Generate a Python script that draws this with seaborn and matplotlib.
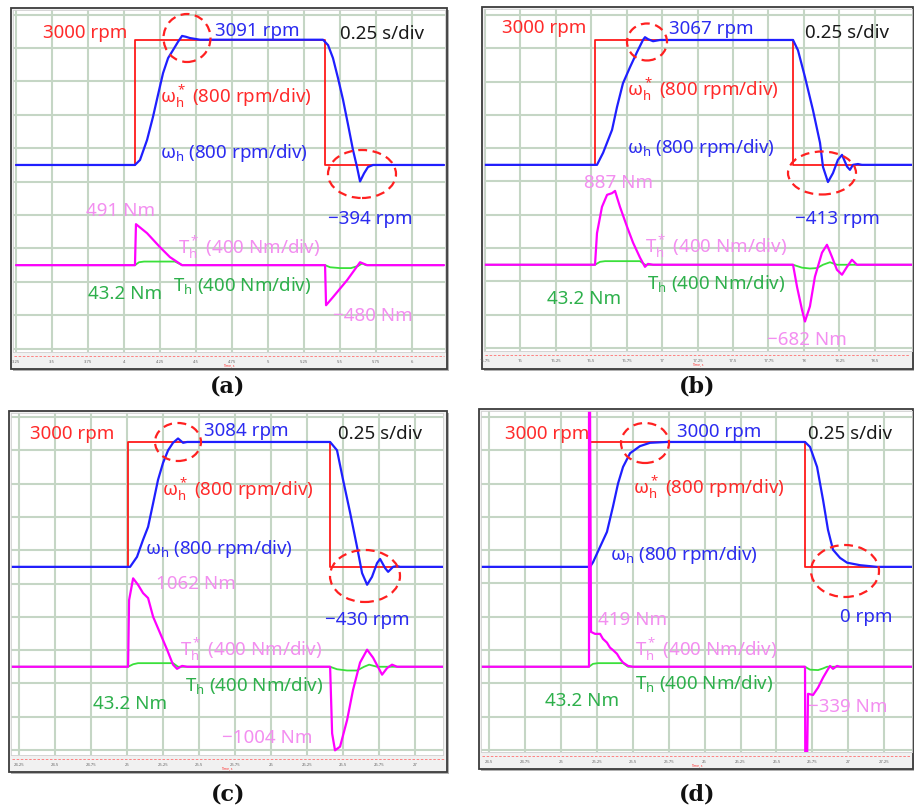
import numpy as np
import pandas as pd
import matplotlib
matplotlib.use("Agg")
import matplotlib.pyplot as plt
import seaborn as sns
from matplotlib.patches import Ellipse, Rectangle
from matplotlib.lines import Line2D

sns.set_theme(style="white")
plt.rcParams['font.family'] = ['Noto Sans', 'DejaVu Sans']
plt.rcParams['mathtext.fontset'] = 'custom'
plt.rcParams['mathtext.rm'] = 'Noto Sans'
plt.rcParams['mathtext.it'] = 'Noto Sans:italic'
plt.rcParams['mathtext.bf'] = 'Noto Sans:bold'

RPM_PER_DIV = 800
NM_PER_DIV = 400
TQ_OFFSET_DIV = -3

# ---------------- panel (a) ----------------
a_ref_t = [3.25, 4.076, 4.076, 5.396, 5.396, 6.222]
a_ref_v = [0, 0, 3000, 3000, 0, 0]
a_spd_t = [3.25, 4.076, 4.111, 4.160, 4.201, 4.236, 4.271, 4.306, 4.340, 4.375, 4.403, 4.430, 4.458,
           4.528, 5.382, 5.417, 5.451, 5.486, 5.521, 5.556, 5.590, 5.618, 5.639, 5.667, 5.694, 5.729, 6.222]
a_spd_v = [0, 0, 120, 600, 1150, 1680, 2200, 2560, 2750, 2950, 3091, 3070, 3040,
           3000, 3000, 2870, 2560, 2080, 1560, 960, 360, -50, -394, -200, -50, 0, 0]
a_tqr_t = [3.25, 4.076, 4.083, 4.160, 4.250, 4.319, 4.403, 5.396, 5.403, 5.451, 5.549, 5.639, 5.688, 6.222]
a_tqr_v = [0, 0, 491, 383, 215, 96, 0, 0, -480, -383, -180, 35, 0, 0]
a_tq_t = [3.25, 4.076, 4.104, 4.139, 4.354, 4.403, 5.396, 5.431, 5.500, 5.576, 5.625, 5.653, 5.681, 6.222]
a_tq_v = [0, 0, 35, 43.2, 43.2, 0, 0, -25, -35, -35, -10, 20, 0, 0]
a_ticks = [3.25, 3.5, 3.75, 4.0, 4.25, 4.5, 4.75, 5.0, 5.25, 5.5, 5.75, 6.0]

# ---------------- panel (b) ----------------
b_ref_t = [15.746, 16.528, 16.528, 17.923, 17.923, 18.761]
b_ref_v = [0, 0, 3000, 3000, 0, 0]
b_spd_t = [15.746, 16.542, 16.585, 16.648, 16.683, 16.725, 16.775, 16.824, 16.866, 16.880, 16.901, 16.937,
           16.986, 17.923, 17.958, 18.007, 18.063, 18.113, 18.134, 18.169, 18.204, 18.239, 18.268, 18.303,
           18.324, 18.345, 18.380, 18.408, 18.761]
b_spd_v = [0, 0, 290, 840, 1390, 1960, 2350, 2710, 3000, 3067, 3020, 2970,
           3000, 3000, 2750, 2110, 1320, 530, -50, -413, -200, 120, 240, -40,
           -120, 0, 20, 0, 0]
b_tqr_t = [15.746, 16.528, 16.542, 16.577, 16.613, 16.648, 16.669, 16.704, 16.754, 16.796, 16.845, 16.880,
           16.901, 16.937, 17.923, 17.951, 17.986, 18.007, 18.042, 18.077, 18.127, 18.162, 18.197, 18.232,
           18.268, 18.303, 18.338, 18.373, 18.761]
b_tqr_v = [0, 0, 380, 695, 840, 860, 887, 695, 455, 265, 85, -25,
           10, 0, 0, -265, -540, -682, -500, -145, 145, 240, 95, -60,
           -120, -25, 60, 0, 0]
b_tq_t = [15.746, 16.528, 16.563, 16.599, 16.845, 16.880, 17.923, 17.986, 18.042, 18.092, 18.134, 18.183, 18.232, 18.761]
b_tq_v = [0, 0, 35, 43.2, 43.2, 0, 0, -35, -45, -40, 0, 30, 0, 0]
b_ticks = [15.75, 16.0, 16.25, 16.5, 16.75, 17.0, 17.25, 17.5, 17.75, 18.0, 18.25, 18.5]

# ---------------- panel (c) ----------------
c_ref_t = [24.194, 25.007, 25.007, 26.410, 26.410, 27.194]
c_ref_v = [0, 0, 3000, 3000, 0, 0]
c_spd_t = [24.194, 25.021, 25.069, 25.111, 25.146, 25.181, 25.215, 25.25, 25.285, 25.319, 25.354, 25.389,
           25.417, 26.410, 26.458, 26.5, 26.549, 26.597, 26.632, 26.667, 26.701, 26.736, 26.757, 26.792,
           26.813, 26.847, 26.875, 26.896, 27.194]
c_spd_v = [0, 0, 240, 650, 960, 1530, 2090, 2500, 2800, 2980, 3084, 2980,
           3000, 3000, 2800, 2090, 1300, 480, -150, -430, -240, 90, 190, -30,
           -120, 0, 20, 0, 0]
c_tqr_t = [24.194, 25.007, 25.014, 25.042, 25.076, 25.111, 25.146, 25.181, 25.229, 25.278, 25.319, 25.347,
           25.382, 25.417, 26.410, 26.417, 26.424, 26.444, 26.479, 26.528, 26.569, 26.618, 26.667, 26.708,
           26.771, 26.806, 26.840, 26.875, 27.194]
c_tqr_v = [0, 0, 800, 1062, 985, 885, 825, 600, 405, 205, 25, -25,
           10, 0, 0, -400, -800, -1004, -960, -640, -280, 50, 205, 110,
           -95, -15, 25, 0, 0]
c_tq_t = [24.194, 25.007, 25.042, 25.076, 25.319, 25.354, 26.410, 26.458, 26.528, 26.597, 26.646, 26.681, 26.736, 27.194]
c_tq_v = [0, 0, 30, 43.2, 43.2, 0, 0, -30, -45, -45, 0, 25, 0, 0]
c_ticks = [24.25, 24.5, 24.75, 25.0, 25.25, 25.5, 25.75, 26.0, 26.25, 26.5, 26.75, 27.0]

# ---------------- panel (d) ----------------
d_ref_t = [24.443, 25.195, 25.195, 26.699, 26.699, 27.444]
d_ref_v = [0, 0, 3000, 3000, 0, 0]
d_spd_t = [24.443, 25.202, 25.223, 25.272, 25.320, 25.362, 25.397, 25.432, 25.481, 25.550, 25.620, 25.738,
           26.699, 26.734, 26.783, 26.825, 26.859, 26.894, 26.943, 26.992, 27.082, 27.2, 27.444]
d_spd_v = [0, 0, 110, 480, 840, 1450, 2000, 2400, 2730, 2900, 2980, 3000,
           3000, 2880, 2400, 1600, 890, 410, 215, 100, 40, 0, 0]
d_tqr_t = [24.443, 25.195, 25.195, 25.202, 25.209, 25.237, 25.272, 25.292, 25.320, 25.341, 25.362, 25.390,
           25.411, 25.432, 25.467, 25.501, 26.699, 26.701, 26.713, 26.720, 26.755, 26.790, 26.825, 26.852,
           26.873, 26.894, 26.922, 26.943, 27.444]
d_tqr_v = [0, 0, 3200, 3200, 419, 395, 395, 335, 290, 230, 200, 155,
           95, 50, 10, 0, 0, -1200, -1200, -325, -339, -250, -130, -50,
           10, -25, 10, 0, 0]
d_tq_t = [24.443, 25.195, 25.223, 25.258, 25.432, 25.467, 26.699, 26.734, 26.790, 26.825, 26.852, 27.444]
d_tq_v = [0, 0, 35, 43.2, 43.2, 0, 0, -35, -40, -20, 0, 0]
d_ticks = [24.5, 24.75, 25.0, 25.25, 25.5, 25.75, 26.0, 26.25, 26.5, 26.75, 27.0, 27.25]

W_REF = r"$\mathregular{\omega_h^*}$ (800 rpm/div)"
W_ACT = r"$\mathregular{\omega_h}$ (800 rpm/div)"
T_REF = r"$\mathregular{T_h^*}$ (400 Nm/div)"
T_ACT = r"$\mathregular{T_h}$ (400 Nm/div)"

C_RED, C_BLUE, C_BLACK = '#ff2a2a', '#2b2bf0', '#1a1a1a'
C_PINK, C_GREEN = '#f38ef0', '#2db04b'

panels = [
    dict(cap='(a)', cap_xy=(228, 387), border=(11, 8, 447, 369), box=(13, 10, 445, 352),
         xlim=(3.229, 6.229), ylim=(-5.6, 4.64), ticks=a_ticks,
         ref=(a_ref_t, a_ref_v), spd=(a_spd_t, a_spd_v), tqr=(a_tqr_t, a_tqr_v), tq=(a_tq_t, a_tq_v),
         texts=[("3000 rpm", 43, 32, C_RED), ("3091 rpm", 215, 30, C_BLUE), ("0.25 s/div", 340, 33, C_BLACK),
                (W_REF, 160, 97, C_RED), (W_ACT, 160, 152, C_BLUE), ("\u2212394 rpm", 328, 218, C_BLUE),
                ("491 Nm", 86, 210, C_PINK), (T_REF, 178, 248, C_PINK), ("43.2 Nm", 88, 293, C_GREEN),
                (T_ACT, 173, 285, C_GREEN), ("\u2212480 Nm", 333, 315, C_PINK)],
         ells=[(187, 38, 47, 48), (362, 174, 68, 48)]),
    dict(cap='(b)', cap_xy=(697, 387), border=(482, 7, 913, 369), box=(484, 9, 912, 351),
         xlim=(15.746, 18.761), ylim=(-5.59, 4.68), ticks=b_ticks,
         ref=(b_ref_t, b_ref_v), spd=(b_spd_t, b_spd_v), tqr=(b_tqr_t, b_tqr_v), tq=(b_tq_t, b_tq_v),
         texts=[("3000 rpm", 502, 27, C_RED), ("3067 rpm", 669, 28, C_BLUE), ("0.25 s/div", 805, 32, C_BLACK),
                (W_REF, 627, 90, C_RED), (W_ACT, 627, 147, C_BLUE), ("887 Nm", 584, 182, C_PINK),
                ("\u2212413 rpm", 795, 218, C_BLUE), (T_REF, 645, 247, C_PINK), (T_ACT, 647, 283, C_GREEN),
                ("43.2 Nm", 547, 298, C_GREEN), ("\u2212682 Nm", 767, 339, C_PINK)],
         ells=[(647, 42, 40, 37), (822, 173, 68, 43)]),
    dict(cap='(c)', cap_xy=(228, 795), border=(9, 411, 447, 772), box=(11, 413, 443, 755),
         xlim=(24.194, 27.194), ylim=(-5.65, 4.62), ticks=c_ticks,
         ref=(c_ref_t, c_ref_v), spd=(c_spd_t, c_spd_v), tqr=(c_tqr_t, c_tqr_v), tq=(c_tq_t, c_tq_v),
         texts=[("3000 rpm", 30, 433, C_RED), ("3084 rpm", 204, 430, C_BLUE), ("0.25 s/div", 338, 433, C_BLACK),
                (W_REF, 162, 490, C_RED), (W_ACT, 145, 548, C_BLUE), ("1062 Nm", 156, 583, C_PINK),
                ("\u2212430 rpm", 325, 619, C_BLUE), (T_REF, 180, 650, C_PINK), (T_ACT, 185, 685, C_GREEN),
                ("43.2 Nm", 93, 703, C_GREEN), ("\u22121004 Nm", 222, 737, C_PINK)],
         ells=[(178, 442, 46, 38), (365, 576, 70, 52)]),
    dict(cap='(d)', cap_xy=(697, 795), border=(479, 409, 913, 769), box=(481, 411, 912, 752),
         xlim=(24.443, 27.444), ylim=(-5.56, 4.68), ticks=d_ticks,
         ref=(d_ref_t, d_ref_v), spd=(d_spd_t, d_spd_v), tqr=(d_tqr_t, d_tqr_v), tq=(d_tq_t, d_tq_v),
         texts=[("3000 rpm", 505, 433, C_RED), ("3000 rpm", 677, 431, C_BLUE), ("0.25 s/div", 808, 433, C_BLACK),
                (W_REF, 633, 488, C_RED), (W_ACT, 610, 554, C_BLUE), ("0 rpm", 840, 616, C_BLUE),
                ("419 Nm", 598, 619, C_PINK), (T_REF, 635, 650, C_PINK), (T_ACT, 635, 683, C_GREEN),
                ("43.2 Nm", 545, 700, C_GREEN), ("\u2212339 Nm", 808, 706, C_PINK)],
         ells=[(645, 443, 48, 40), (845, 571, 68, 52)]),
]

W, H = 914, 811
fig = plt.figure(figsize=(W / 100, H / 100), dpi=100)
fig.patch.set_facecolor('white')


def fx(x):
    return x / W


def fy(y):
    return 1 - y / H


for p in panels:
    bl, bt, br, bb = p['border']
    # shadow + frame
    fig.add_artist(Rectangle((fx(bl + 2), fy(bb + 2)), (br - bl) / W, (bb - bt) / H,
                             transform=fig.transFigure, facecolor='#b0b0b0', edgecolor='none', zorder=-3))
    fig.add_artist(Rectangle((fx(bl), fy(bb)), (br - bl) / W, (bb - bt) / H,
                             transform=fig.transFigure, facecolor='#f1f1f1', edgecolor='#3c3c3c',
                             lw=1.3, zorder=-2))
    l, t, r, b = p['box']
    ax = fig.add_axes([fx(l), fy(b), (r - l) / W, (b - t) / H])
    ax.set_facecolor('white')

    rt, rv = p['ref']
    st, sv = p['spd']
    qt, qv = p['tqr']
    gt, gv = p['tq']
    df_ref = pd.DataFrame({'t': rt, 'y': np.array(rv) / RPM_PER_DIV})
    df_spd = pd.DataFrame({'t': st, 'y': np.array(sv) / RPM_PER_DIV})
    df_tq = pd.DataFrame({'t': gt, 'y': np.array(gv) / NM_PER_DIV + TQ_OFFSET_DIV})
    df_tqr = pd.DataFrame({'t': qt, 'y': np.array(qv) / NM_PER_DIV + TQ_OFFSET_DIV})

    sns.lineplot(data=df_ref, x='t', y='y', ax=ax, color='#ff1a1a', lw=1.3, estimator=None, sort=False)
    sns.lineplot(data=df_spd, x='t', y='y', ax=ax, color='#1f1fff', lw=1.6, estimator=None, sort=False)
    sns.lineplot(data=df_tq, x='t', y='y', ax=ax, color='#3ae03a', lw=1.3, estimator=None, sort=False)
    sns.lineplot(data=df_tqr, x='t', y='y', ax=ax, color='#ff00ff', lw=1.6, estimator=None, sort=False)

    ax.set_xlim(*p['xlim'])
    ax.set_ylim(*p['ylim'])
    ax.set_xticks(p['ticks'])
    ax.set_xticklabels([f"{v:g}" for v in p['ticks']], fontsize=3, color='#666666')
    ax.set_yticks(np.arange(-5.5, 4.6, 1.0))
    ax.set_yticklabels([])
    ax.tick_params(axis='both', length=0, pad=6)
    ax.grid(True, color='#c5d6c5', lw=1.5)
    ax.set_axisbelow(True)
    ax.set_xlabel('')
    ax.set_ylabel('')
    for s in ax.spines.values():
        s.set_color('#d0d0d0')
        s.set_linewidth(0.6)

    # time strip details
    fig.add_artist(Line2D([fx(bl + 3), fx(br - 3)], [fy(b + 4), fy(b + 4)], transform=fig.transFigure,
                          color='#ff7070', lw=0.6, ls=(0, (3, 2))))
    fig.text(fx((l + r) / 2), fy(b + 13), 'Time, s', fontsize=2.5, color='#ff3030', ha='center', va='center')

    for (txt, x, y, c) in p['texts']:
        fig.text(fx(x), fy(y + 6), txt, color=c, fontsize=13.5, ha='left', va='baseline')
    for (cx, cy, w, h) in p['ells']:
        fig.add_artist(Ellipse((fx(cx), fy(cy)), w / W, h / H, transform=fig.transFigure, fill=False,
                               edgecolor='#ff2020', lw=1.6, ls=(0, (4, 2.5))))
    cx, cy = p['cap_xy']
    fig.text(fx(cx), fy(cy), p['cap'], fontsize=16, family='DejaVu Serif', fontweight='bold',
             ha='center', va='center', color='#111111')

fig.savefig('out.png', dpi=100)
